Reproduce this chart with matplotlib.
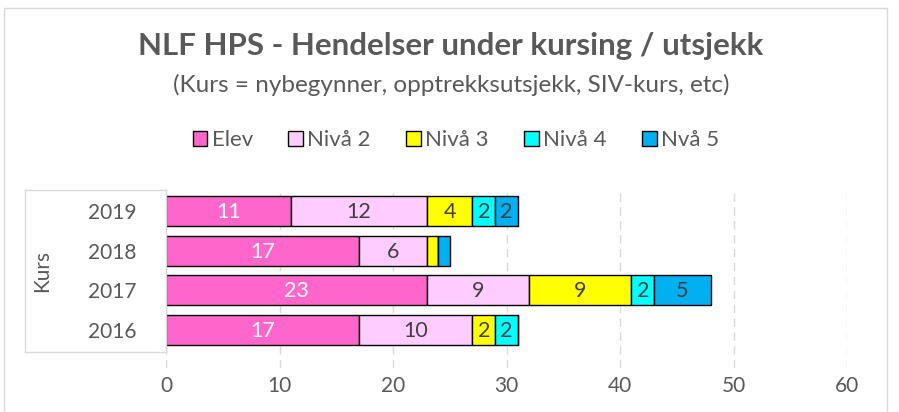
import matplotlib.pyplot as plt
import numpy as np
from matplotlib.lines import Line2D
from matplotlib.patches import Patch, Rectangle

plt.rcParams['font.family'] = ['Lato', 'DejaVu Sans']

# data
years = ['2019', '2018', '2017', '2016']
series = ['Elev', 'Nivå 2', 'Nivå 3', 'Nivå 4', 'Nvå 5']
elev = [11, 17, 23, 17]
niva2 = [12, 6, 9, 10]
niva3 = [4, 1, 9, 2]
niva4 = [2, 0, 2, 2]
niva5 = [2, 1, 5, 0]

colors = ['#FF66CC', '#FFCCFF', '#FFFF00', '#00FFFF', '#00B0F0']
text_colors = ['white', '#404040', '#404040', '#404040', '#404040']
grey = '#595959'

W, H = 899, 412
fig = plt.figure(figsize=(W / 100, H / 100), dpi=100)

# outer chart frame
fig.add_artist(Rectangle((4 / W, -0.05), 883 / W, 1.05 - 8 / H, transform=fig.transFigure,
                         fill=False, edgecolor='#D9D9D9', lw=1))

ax = fig.add_axes([166 / W, 1 - 368 / H, 681 / W, 178 / H])

y = np.arange(len(years))
left = np.zeros(len(years))
for vals, name, col, tcol in zip([elev, niva2, niva3, niva4, niva5], series, colors, text_colors):
    vals = np.array(vals, dtype=float)
    bars = ax.barh(y, vals, left=left, height=0.76, color=col, edgecolor='black',
                   linewidth=1, label=name)
    for b, v in zip(bars, vals):
        if v > 1:
            ax.text(b.get_x() + b.get_width() / 2, b.get_y() + b.get_height() / 2 + 0.03,
                    f'{int(v)}', ha='center', va='center', color=tcol, fontsize=15.5)
    left += vals

ax.set_xlim(0, 60)
ax.set_ylim(3.96, -0.53)
ax.set_xticks(range(0, 61, 10))
ax.set_yticks(y)
ax.set_yticklabels(years)
ax.tick_params(axis='both', length=0, labelsize=15, colors=grey)
ax.tick_params(axis='x', pad=6)
ax.tick_params(axis='y', pad=21)
for s in ax.spines.values():
    s.set_visible(False)
ax.xaxis.grid(True, linestyle=(0, (6, 4)), color='#D9D9D9', lw=1)
ax.set_axisbelow(True)

# category group box on the left
box_c = '#D9D9D9'
fig.add_artist(Line2D([25 / W, 166 / W], [1 - 190 / H, 1 - 190 / H], color=box_c, lw=1))
fig.add_artist(Line2D([25 / W, 166 / W], [1 - 352 / H, 1 - 352 / H], color=box_c, lw=1))
fig.add_artist(Line2D([25 / W, 25 / W], [1 - 190 / H, 1 - 352 / H], color=box_c, lw=1))
fig.add_artist(Line2D([166 / W, 166 / W], [1 - 190 / H, 1 - 352 / H], color=box_c, lw=1))
fig.text(42 / W, 1 - 271 / H, 'Kurs', rotation=90, ha='center', va='center',
         fontsize=15, color=grey)

fig.text(451 / W, 1 - 46 / H, 'NLF HPS - Hendelser under kursing / utsjekk',
         ha='center', va='center', fontsize=22.5, fontweight='bold', color=grey)
fig.text(451 / W, 1 - 85 / H, '(Kurs = nybegynner, opptrekksutsjekk, SIV-kurs, etc)',
         ha='center', va='center', fontsize=17.5, color=grey)

handles = [Patch(facecolor=c, edgecolor='black', lw=1) for c in colors]
leg = fig.legend(handles, series, loc='center', bbox_to_anchor=(456 / W, 1 - 140 / H),
                 ncol=5, frameon=False, fontsize=16, handlelength=0.65, handleheight=0.65,
                 handletextpad=0.2, columnspacing=1.6)
for t in leg.get_texts():
    t.set_color(grey)

fig.savefig('out.png', dpi=100)
